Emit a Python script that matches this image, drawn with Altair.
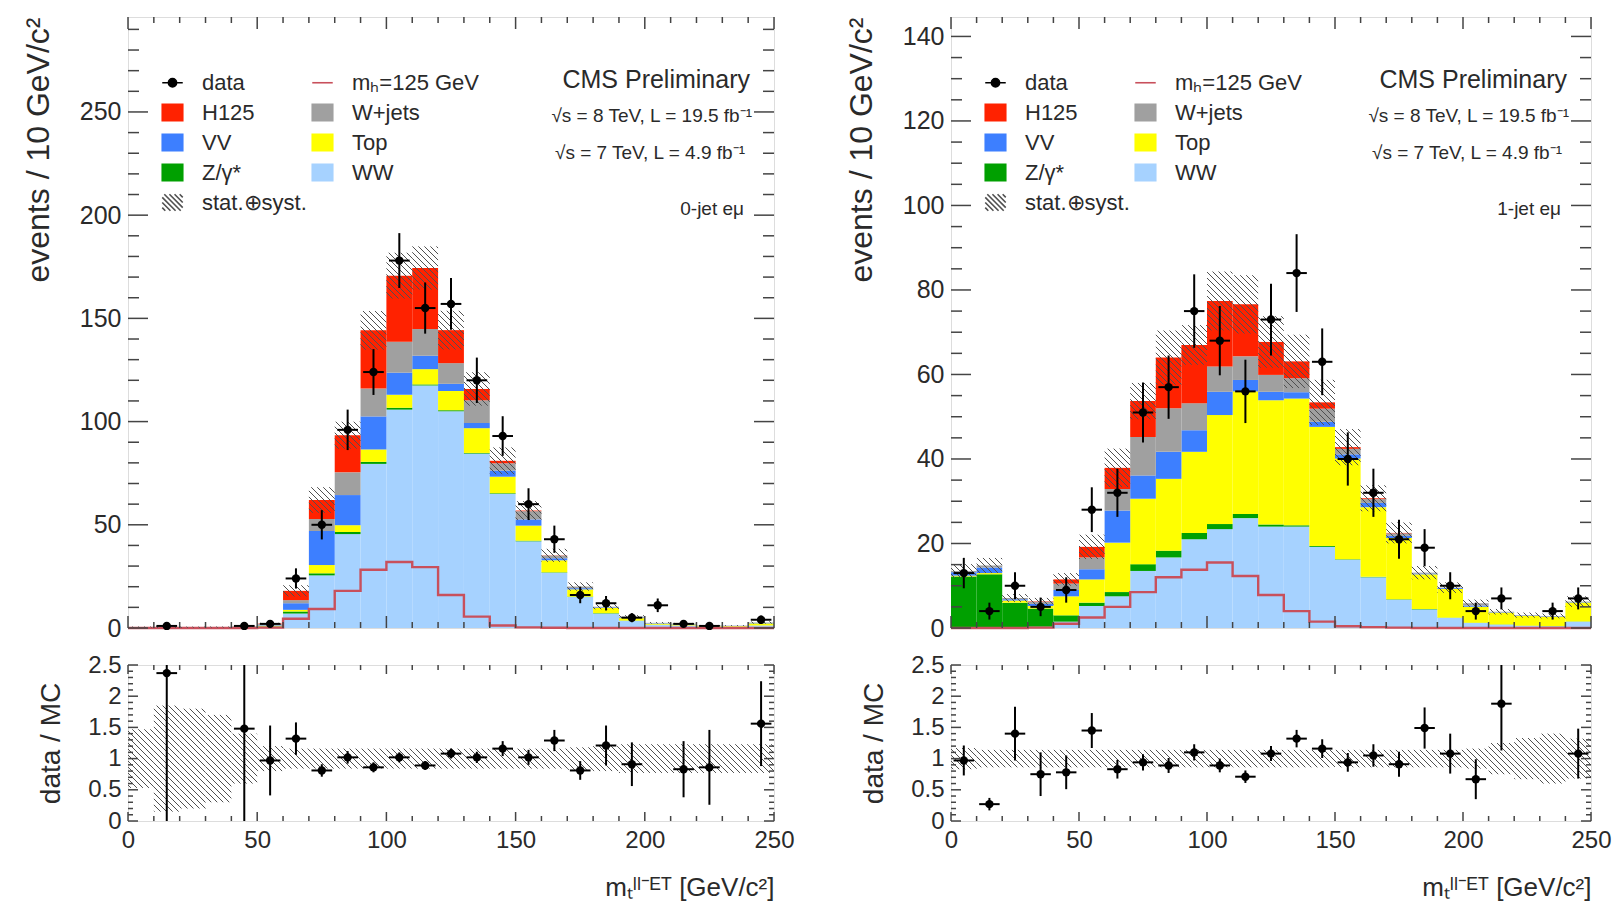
import math
import altair as alt
import pandas as pd

# ------------------------------------------------------------------ data
bin_lo = list(range(0, 250, 10))

# 0-jet e-mu (left)
ww_0j  = [0.05,0.05,0.05,0.05,0.1,0.6,7,25.5,45.5,79.5,105.8,117.5,105,84.5,65,42,26.8,15,7,3.5,1.5,1.2,0.7,0.6,1.2]
zg_0j  = [0.2,0.2,0.2,0.2,0.2,0.2,1,1,1,1,0.9,0.5,0.5,0.3,0.3,0.3,0.2,0.2,0.2,0.1,0.1,0.05,0.05,0.05,0.05]
top_0j = [0.05,0.05,0.05,0.05,0.1,0.4,0.8,4,3.3,6,6.3,7.4,9.3,12,8,7.3,5.8,3.5,2.5,1.2,0.5,0.5,0.3,0.3,1.0]
vv_0j  = [0.05,0.05,0.05,0.05,0.1,0.4,3.2,16.5,14.6,16,10.7,6.5,3.5,2.5,3,3,1,0.6,0.3,0.3,0.2,0.2,0.1,0.1,0.2]
wj_0j  = [0.1,0.07,0.05,0.1,0.2,0.3,1.5,5.8,11,13.5,15,13,10,11,3.5,4,1.3,0.8,0.3,0.4,0.2,0.2,0.1,0.1,0.2]
h_0j   = [0,0,0,0,0,0.2,4.5,9.2,18,28.2,32,29.5,16,5.5,1.2,0.3,0.1,0,0,0,0,0,0,0,0]
data_0j = [0,1,0,0,1,2,24,50,96,124,178,155,157,120,93,60,43,16,12,5,11,2,1,0,4]
derr_0j = [0,1.3,0,0,1.3,1.5,4.9,7.1,9.8,11.1,13.3,12.4,12.5,11,9.6,7.7,6.6,4,3.5,2.2,3.3,1.4,1,0,2]
unc_0j  = [0.6,0.8,0.7,0.6,0.35,0.2,0.15,0.1,0.07,0.065,0.065,0.06,0.065,0.07,0.08,0.08,0.09,0.1,0.12,0.13,0.15,0.15,0.18,0.2,0.2]
ratio_0j = [None,2.37,None,None,1.48,0.97,1.32,0.81,1.02,0.86,1.02,0.89,1.08,1.02,1.16,1.02,1.29,0.81,1.21,0.91,4.4,0.83,0.86,None,1.56]
rerr_0j  = [0,3.0,0,0,1.6,0.56,0.26,0.1,0.1,0.08,0.08,0.07,0.08,0.09,0.12,0.12,0.17,0.15,0.32,0.35,1.3,0.45,0.6,0,0.68]
band_0j  = [0.47,0.85,0.8,0.7,0.4,0.2,0.16,0.16,0.16,0.16,0.16,0.16,0.16,0.16,0.16,0.16,0.16,0.18,0.2,0.23,0.23,0.23,0.23,0.23,0.23]

# 1-jet e-mu (right)
ww_1j  = [0.2,0.2,0.2,0.3,1.5,5.2,7.5,13.5,16.7,21,23.4,26,24,24,19.2,16.2,12,6.7,4.4,2.4,1.2,0.8,0.5,0.4,1.5]
zg_1j  = [12,12.5,5.8,4.3,1.5,0.8,1,1.6,1.6,1.5,1.2,1,0.5,0.3,0.2,0.1,0.1,0.1,0.1,0.05,0.05,0.05,0.05,0.05,0.05]
top_1j = [0.2,0.3,0.5,0.6,4.5,5.5,11.7,15.5,17,19.2,25.8,29,29.4,30,28.2,23.8,16.5,14.5,8.2,6.8,3.8,2.8,2.3,2.2,4.5]
vv_1j  = [0.8,1.3,0.3,0.5,1.5,2.4,7.6,5.5,6.4,5.1,5.5,2.7,2,1.5,1.2,1,1,0.5,0.2,0.2,0.3,0.1,0.1,0.1,0.1]
wj_1j  = [0.3,0.5,0.3,0.5,1.5,2.8,5.1,9.1,10.3,6.4,6,5.6,4,3.3,3.1,1.3,0.9,0.6,0.2,0.1,0.5,0.1,0.1,0.1,0.1]
h_1j   = [0,0,0,0.1,1,2.5,5,8.5,12,13.8,15.5,12.3,7.8,4,1.5,0.4,0.2,0.1,0,0,0,0,0,0,0]
data_1j = [13,4,10,5,9,28,32,51,57,75,68,56,73,84,63,40,32,21,19,10,4,7,0,4,7]
derr_1j = [3.6,2,3.2,2.2,3,5.3,5.7,7.1,7.5,8.7,8.2,7.5,8.5,9.2,7.9,6.3,5.7,4.6,4.4,3.2,2,2.6,0,2,2.6]
unc_1j  = [0.12,0.12,0.13,0.13,0.13,0.15,0.12,0.08,0.1,0.07,0.09,0.09,0.09,0.1,0.1,0.1,0.1,0.11,0.12,0.13,0.15,0.17,0.2,0.2,0.2]
ratio_1j = [0.97,0.27,1.40,0.75,0.78,1.45,0.83,0.94,0.89,1.10,0.89,0.71,1.08,1.32,1.16,0.94,1.05,0.91,1.49,1.08,0.67,1.88,None,None,1.08]
rerr_1j  = [0.24,0.1,0.43,0.35,0.27,0.28,0.15,0.13,0.12,0.13,0.11,0.1,0.12,0.14,0.15,0.15,0.18,0.2,0.33,0.32,0.32,0.75,0,0,0.4]
band_1j  = [0.17,0.14,0.14,0.14,0.14,0.14,0.14,0.14,0.14,0.14,0.14,0.14,0.14,0.14,0.14,0.14,0.14,0.14,0.14,0.14,0.16,0.25,0.33,0.4,0.32]

# axis tick values
x_major = [0, 50, 100, 150, 200, 250]
x_minor = [v for v in range(0, 251, 10) if v % 50]
y_major_0j = [0, 50, 100, 150, 200, 250]
y_minor_0j = [v for v in range(0, 296, 10) if v % 50]
y_major_1j = [0, 20, 40, 60, 80, 100, 120, 140]
y_minor_1j = [v for v in range(0, 145, 5) if v % 20]
r_major = [0, 0.5, 1, 1.5, 2, 2.5]
r_minor = [round(v * 0.1, 1) for v in range(0, 26) if v % 5]

proc_names = ["WW", "Z/γ*", "Top", "VV", "W+jets", "H125"]
# legend entries, filled column by column (col 1 first, then col 2)
legend_names = ["data", "H125", "VV", "Z/γ*", "stat.⊕syst.",
                "mₕ=125 GeV", "W+jets", "Top", "WW"]

# ------------------------------------------------------------------ style
FONT = "Liberation Sans"
TXT = "#2a2a2a"
FRAME = "#444444"
COLORS = {"WW": "#a6d2ff", "Z/γ*": "#00a000", "Top": "#ffff00",
          "VV": "#3d7fff", "W+jets": "#a0a0a0", "H125": "#ff2200"}
SIG_COLOR = "#c8505c"
HATCH = "#505050"

W_L, W_R = 646, 640
H_TOP, H_RAT = 611, 156
YMAX_0j, YMAX_1j = 296, 144.6
XMAX = 250

SQ = "M-1,-0.8H1V0.8H-1Z"
DATA_SYM = "M-1,0H-0.4M0.4,0H1M0.4,0A0.4,0.4,0,1,1,-0.4,0A0.4,0.4,0,1,1,0.4,0Z"
LINE_SYM = "M-1,0H1"


def hatch_symbol():
    parts = []
    for t in [-1.5, -1.0, -0.5, 0.0, 0.5, 1.0, 1.5]:
        xa = max(-1, -0.8 + t)
        xb = min(1, 0.8 + t)
        if xb > xa:
            parts.append(f"M{xa:.2f},{xa - t:.2f}L{xb:.2f},{xb - t:.2f}")
    return "".join(parts)


sym_of = {"data": DATA_SYM, "mₕ=125 GeV": LINE_SYM, "stat.⊕syst.": hatch_symbol()}
fill_of = {"data": "#000000", "mₕ=125 GeV": "transparent", "stat.⊕syst.": "transparent"}
stroke_of = {"data": "#000000", "mₕ=125 GeV": SIG_COLOR, "stat.⊕syst.": HATCH}
leg_fill = [fill_of.get(n, COLORS.get(n)) for n in legend_names]
leg_stroke = [stroke_of.get(n, COLORS.get(n)) for n in legend_names]
leg_shape = [sym_of.get(n, SQ) for n in legend_names]


# ------------------------------------------------------------------ helpers
def hatch_segments(rects, sx, sy, step=6.0):
    segs = []
    for xa, xb, ya, yb in rects:
        if yb - ya <= 0:
            continue
        Xa, Xb, Ya, Yb = xa * sx, xb * sx, ya * sy, yb * sy
        n0 = math.floor((Xa + Ya) / step)
        n1 = math.ceil((Xb + Yb) / step)
        for n in range(n0, n1 + 1):
            c = n * step
            X0 = max(Xa, c - Yb)
            X1 = min(Xb, c - Ya)
            if X1 - X0 > 0.4:
                segs.append({"x": X0 / sx, "y": (c - X0) / sy,
                             "x2": X1 / sx, "y2": (c - X1) / sy})
    return pd.DataFrame(segs)


def tick_layers(X, Y, W, H, ymaj, ymin, ylen, xmaj, xmin, xlen):
    out = []
    for vals, ln in [(ymaj, ylen[0]), (ymin, ylen[1])]:
        df = pd.DataFrame({"v": vals})
        out.append(alt.Chart(df).mark_rule(color=FRAME, strokeWidth=1.5).encode(
            y=Y("v"), x=alt.value(0), x2=alt.value(ln)))
        out.append(alt.Chart(df).mark_rule(color=FRAME, strokeWidth=1.5).encode(
            y=Y("v"), x=alt.value(W - ln), x2=alt.value(W)))
    for vals, ln in [(xmaj, xlen[0]), (xmin, xlen[1])]:
        df = pd.DataFrame({"v": vals})
        out.append(alt.Chart(df).mark_rule(color=FRAME, strokeWidth=1.5).encode(
            x=X("v"), y=alt.value(H), y2=alt.value(H - ln)))
        out.append(alt.Chart(df).mark_rule(color=FRAME, strokeWidth=1.5).encode(
            x=X("v"), y=alt.value(0), y2=alt.value(ln)))
    return out


def text_layer(s, x, y, size):
    return alt.Chart(pd.DataFrame({"t": [s]})).mark_text(
        align="right", baseline="middle", font=FONT, fontSize=size, color=TXT
    ).encode(x=alt.value(x), y=alt.value(y), text="t:N")


def top_panel(comps, sig, data, derr, unc, ymax, ymaj, ymin, W, jet_label):
    xsc = alt.Scale(domain=[0, XMAX], nice=False, zero=False)
    ysc = alt.Scale(domain=[0, ymax], nice=False, zero=True)
    yax = alt.Axis(values=ymaj, ticks=False, domain=False, grid=False,
                   labelFont=FONT, labelFontSize=25, labelColor=TXT, labelPadding=7,
                   title="events / 10 GeV/c²", titleFont=FONT, titleFontSize=32,
                   titleFontWeight="normal", titleColor=TXT, titlePadding=24,
                   titleAnchor="end")

    def X(f):
        return alt.X(f + ":Q", scale=xsc, axis=None)

    def Y(f):
        return alt.Y(f + ":Q", scale=ysc, axis=yax)

    rows = []
    tot = []
    for k, lo in enumerate(bin_lo):
        base = 0.0
        for name, vals in comps:
            rows.append({"proc": name, "lo": lo, "hi": lo + 10, "y0": base, "y1": base + vals[k]})
            base += vals[k]
        tot.append(base)
    st = pd.DataFrame(rows)

    layers = []
    for name, _ in comps:
        layers.append(alt.Chart(st[st.proc == name]).mark_rect(color=COLORS[name]).encode(
            x=X("lo"), x2="hi:Q", y=Y("y0"), y2="y1:Q"))

    sig_df = pd.DataFrame({"x": bin_lo + [XMAX], "y": sig + [sig[-1]]})
    layers.append(alt.Chart(sig_df).mark_line(interpolate="step-after", color=SIG_COLOR,
                                               strokeWidth=2.4).encode(x=X("x"), y=Y("y")))

    sx, sy = W / XMAX, H_TOP / ymax
    rects = [(lo, lo + 10, max(0.0, t * (1 - u)), min(ymax, t * (1 + u)))
             for lo, t, u in zip(bin_lo, tot, unc)]
    hs = hatch_segments(rects, sx, sy)
    layers.append(alt.Chart(hs).mark_rule(color=HATCH, strokeWidth=1).encode(
        x=X("x"), y=Y("y"), x2="x2:Q", y2="y2:Q"))

    dd = pd.DataFrame({"x": [lo + 5 for lo in bin_lo], "v": data, "e": derr})
    dd = dd[dd.v > 0].copy()
    dd["lo"] = dd.v - dd.e
    dd["hi"] = dd.v + dd.e
    dd["xl"] = dd.x - 4
    dd["xh"] = dd.x + 4
    layers.append(alt.Chart(dd).mark_rule(color="black", strokeWidth=2).encode(
        x=X("x"), y=Y("lo"), y2="hi:Q"))
    layers.append(alt.Chart(dd).mark_rule(color="black", strokeWidth=2).encode(
        x=X("xl"), x2="xh:Q", y=Y("v")))
    layers.append(alt.Chart(dd).mark_point(filled=True, color="black", size=70, opacity=1,
                                           shape="circle").encode(x=X("x"), y=Y("v")))

    layers += tick_layers(X, Y, W, H_TOP, ymaj, ymin, (20, 11), x_major, x_minor, (12, 6))

    layers.append(text_layer("CMS Preliminary", W - 24, 63, 25))
    layers.append(text_layer("√s = 8 TeV, L = 19.5 fb⁻¹", W - 22, 99, 19))
    layers.append(text_layer("√s = 7 TeV, L = 4.9 fb⁻¹", W - 29, 136, 19))
    layers.append(text_layer(jet_label, W - 30, 192, 19))

    leg = alt.Legend(orient="none", legendX=33, legendY=54, columns=2, title=None,
                     symbolSize=420, symbolStrokeWidth=1.6, labelFont=FONT, labelFontSize=22,
                     labelColor=TXT, labelOffset=18, rowPadding=7, columnPadding=2,
                     padding=0, labelLimit=300)
    ld = pd.DataFrame({"proc": legend_names})
    layers.append(alt.Chart(ld).mark_point(filled=True, opacity=1, clip=True).encode(
        x=alt.value(-300), y=alt.value(-300),
        fill=alt.Fill("proc:N", scale=alt.Scale(domain=legend_names, range=leg_fill), legend=leg),
        stroke=alt.Stroke("proc:N", scale=alt.Scale(domain=legend_names, range=leg_stroke), legend=leg),
        shape=alt.Shape("proc:N", scale=alt.Scale(domain=legend_names, range=leg_shape), legend=leg)))

    return alt.layer(*layers).properties(width=W, height=H_TOP)


def ratio_panel(ratio, rerr, band, W):
    xsc = alt.Scale(domain=[0, XMAX], nice=False, zero=False)
    ysc = alt.Scale(domain=[0, 2.5], nice=False, zero=True)
    xax = alt.Axis(values=x_major, ticks=False, domain=False, grid=False, labelFont=FONT,
                   labelFontSize=24, labelColor=TXT, labelPadding=7, labelOverlap=False,
                   labelFlush=False, title="mₜˡˡ⁻ᴱᵀ [GeV/c²]", titleAnchor="end",
                   titleFont=FONT, titleFontSize=26, titleFontWeight="normal", titleColor=TXT,
                   titlePadding=22)
    yax = alt.Axis(values=r_major, format="~g", ticks=False, domain=False, grid=False,
                   labelFont=FONT, labelFontSize=24, labelColor=TXT, labelPadding=7,
                   title="data / MC", titleFont=FONT, titleFontSize=28, titleFontWeight="normal",
                   titleColor=TXT, titlePadding=22)

    def X(f):
        return alt.X(f + ":Q", scale=xsc, axis=xax)

    def Y(f):
        return alt.Y(f + ":Q", scale=ysc, axis=yax)

    layers = []
    sx, sy = W / XMAX, H_RAT / 2.5
    rects = [(lo, lo + 10, max(0.0, 1 - b), min(2.5, 1 + b)) for lo, b in zip(bin_lo, band)]
    hs = hatch_segments(rects, sx, sy)
    layers.append(alt.Chart(hs).mark_rule(color=HATCH, strokeWidth=1).encode(
        x=X("x"), y=Y("y"), x2="x2:Q", y2="y2:Q"))

    rd = pd.DataFrame({"x": [lo + 5 for lo in bin_lo], "r": ratio, "e": rerr}).dropna()
    rd["lo"] = rd.r - rd.e
    rd["hi"] = rd.r + rd.e
    rd["xl"] = rd.x - 4
    rd["xh"] = rd.x + 4
    layers.append(alt.Chart(rd).mark_rule(color="black", strokeWidth=2, clip=True).encode(
        x=X("x"), y=Y("lo"), y2="hi:Q"))
    layers.append(alt.Chart(rd).mark_rule(color="black", strokeWidth=2, clip=True).encode(
        x=X("xl"), x2="xh:Q", y=Y("r")))
    layers.append(alt.Chart(rd).mark_point(filled=True, color="black", size=70, opacity=1,
                                           shape="circle", clip=True).encode(x=X("x"), y=Y("r")))

    layers += tick_layers(X, Y, W, H_RAT, r_major, r_minor, (10, 5), x_major, x_minor, (9, 5))
    return alt.layer(*layers).properties(width=W, height=H_RAT)


comps_0j = list(zip(proc_names, [ww_0j, zg_0j, top_0j, vv_0j, wj_0j, h_0j]))
comps_1j = list(zip(proc_names, [ww_1j, zg_1j, top_1j, vv_1j, wj_1j, h_1j]))

left_col = alt.vconcat(
    top_panel(comps_0j, h_0j, data_0j, derr_0j, unc_0j, YMAX_0j, y_major_0j, y_minor_0j, W_L, "0-jet eμ"),
    ratio_panel(ratio_0j, rerr_0j, band_0j, W_L),
    spacing=10,
).resolve_scale(fill="independent", stroke="independent", shape="independent")

right_col = alt.vconcat(
    top_panel(comps_1j, h_1j, data_1j, derr_1j, unc_1j, YMAX_1j, y_major_1j, y_minor_1j, W_R, "1-jet eμ"),
    ratio_panel(ratio_1j, rerr_1j, band_1j, W_R),
    spacing=10,
).resolve_scale(fill="independent", stroke="independent", shape="independent")

chart = alt.hconcat(left_col, right_col, spacing=49).resolve_scale(
    fill="independent", stroke="independent", shape="independent",
    x="independent", y="independent"
).properties(
    padding={"left": 21, "top": 15, "right": 0, "bottom": 0}
).configure_view(
    stroke=FRAME, strokeWidth=2
).configure(background="white")

chart.save("out.html", embed_options={"renderer": "svg", "actions": False})
